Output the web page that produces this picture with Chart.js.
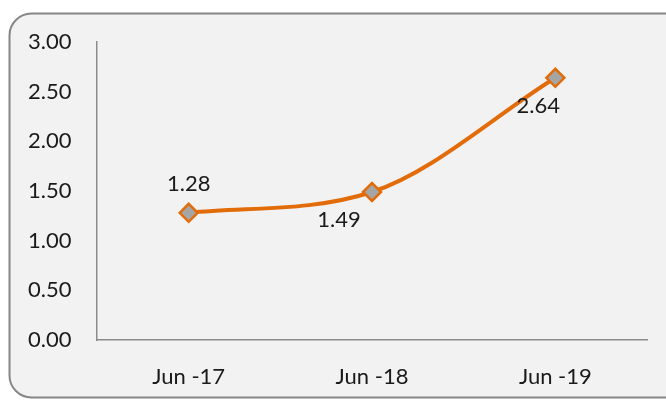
<!DOCTYPE html>
<html>
<head>
<meta charset="utf-8">
<script src="https://cdn.jsdelivr.net/npm/chart.js@4"></script>
<style>
  html, body { margin: 0; padding: 0; background: #fff; }
  #wrap { width: 666px; height: 400px; }
</style>
</head>
<body>
<div id="wrap"><canvas id="chart" width="666" height="400"></canvas></div>
<script>
// ── Data ──────────────────────────────────────
const categories = ['Jun -17', 'Jun -18', 'Jun -19'];
const values = [1.28, 1.49, 2.64];
const yTicks = [0, 0.5, 1, 1.5, 2, 2.5, 3];

// label placement per point (dx, dy from the point)
const labelShift = [[0, -29], [-33, 28], [-17, 28]];

const FONT = 'Lato, "Open Sans", sans-serif';

// ── Frame: rounded gray box behind everything ──
const framePlugin = {
  id: 'frame',
  beforeDraw(chart) {
    const ctx = chart.ctx;
    ctx.save();
    ctx.fillStyle = '#fff';
    ctx.fillRect(0, 0, chart.width, chart.height);
    ctx.beginPath();
    ctx.roundRect(9.5, 13.5, 680, 384, 22);
    ctx.fillStyle = '#f2f2f2';
    ctx.fill();
    ctx.lineWidth = 2;
    ctx.strokeStyle = '#868686';
    ctx.stroke();
    ctx.restore();
  }
};

// ── Value labels ──────────────────────────────
const labelPlugin = {
  id: 'valueLabels',
  afterDatasetsDraw(chart) {
    const ctx = chart.ctx;
    const meta = chart.getDatasetMeta(0);
    ctx.save();
    ctx.font = '22px ' + FONT;
    ctx.fillStyle = '#1a1a1a';
    ctx.textAlign = 'center';
    ctx.textBaseline = 'middle';
    meta.data.forEach((pt, i) => {
      const [dx, dy] = labelShift[i];
      ctx.fillText(values[i].toFixed(2), pt.x + dx, pt.y + dy);
    });
    ctx.restore();
  }
};

new Chart(document.getElementById('chart').getContext('2d'), {
  type: 'line',
  data: {
    labels: categories,
    datasets: [{
      data: values,
      borderColor: '#e36c0a',
      borderWidth: 4,
      tension: 0.4,
      cubicInterpolationMode: 'monotone',
      pointStyle: 'rectRot',
      pointRadius: 9,
      pointHoverRadius: 9,
      pointBackgroundColor: '#a5a5a5',
      pointBorderColor: '#e36c0a',
      pointBorderWidth: 2.5
    }]
  },
  options: {
    responsive: false,
    animation: false,
    layout: { padding: { left: 28, right: 19, top: 42, bottom: 10 } },
    plugins: { legend: { display: false }, tooltip: { enabled: false } },
    scales: {
      x: {
        offset: true,
        afterFit(scale) { scale.height = 50; },
        grid: { display: false, drawTicks: false },
        border: { display: true, color: '#8c8c8c', width: 1.5 },
        ticks: { color: '#1a1a1a', font: { family: FONT, size: 22 }, padding: 24 }
      },
      y: {
        min: 0, max: 3,
        afterBuildTicks(scale) { scale.ticks = yTicks.map(v => ({ value: v })); },
        afterFit(scale) { scale.width = 69; },
        grid: { display: false, drawTicks: false },
        border: { display: true, color: '#8c8c8c', width: 1.5 },
        ticks: {
          color: '#1a1a1a', font: { family: FONT, size: 22 },
          crossAlign: 'far', padding: 0,
          callback: v => Number(v).toFixed(2)
        }
      }
    }
  },
  plugins: [framePlugin, labelPlugin]
});
</script>
</body>
</html>
